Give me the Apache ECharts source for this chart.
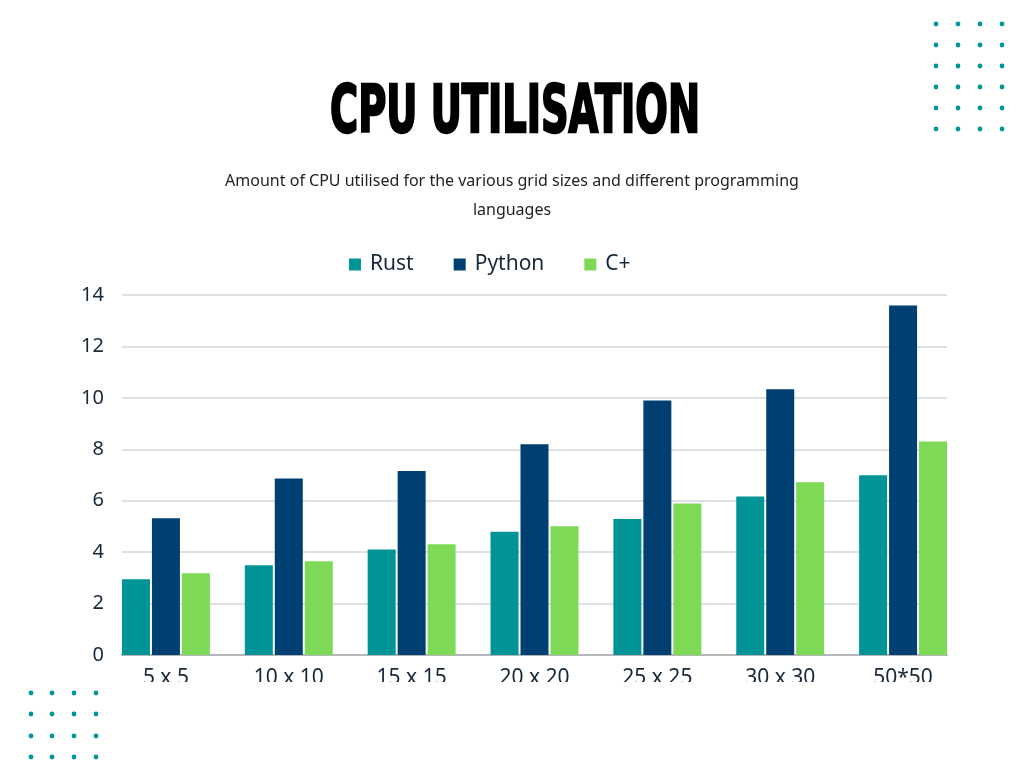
<!DOCTYPE html>
<html>
<head>
<meta charset="utf-8">
<script src="https://cdn.jsdelivr.net/npm/echarts@6/dist/echarts.min.js"></script>
<style>
html,body{margin:0;padding:0;background:#fff;}
#chart{width:1024px;height:768px;}
</style>
</head>
<body>
<div id="chart"></div>
<script>
var categories = ['5 x 5', '10 x 10', '15 x 15', '20 x 20', '25 x 25', '30 x 30', '50*50'];
var rustValues = [2.95, 3.49, 4.10, 4.79, 5.29, 6.16, 6.99];
var pythonValues = [5.32, 6.86, 7.16, 8.20, 9.90, 10.33, 13.59];
var cplusValues = [3.18, 3.65, 4.31, 5.01, 5.89, 6.72, 8.30];
var seriesNames = ['Rust', 'Python', 'C+'];
var yTicks = [0, 2, 4, 6, 8, 10, 12, 14];

var colors = ['#009496', '#003f72', '#7ed957'];
var bodyFont = '"Noto Sans", "Open Sans", sans-serif';
var titleFontFamily = '"Liberation Sans Narrow", "DejaVu Sans Condensed", sans-serif';
var titleFont = 'bold 66px ' + titleFontFamily;
var titleText = 'CPU UTILISATION';

// fit title width
var cv = document.createElement('canvas').getContext('2d');
cv.font = titleFont;
var tw = cv.measureText(titleText).width;
var titleScale = 370 / tw;

// decorative dots
var dots = [];
var dotColor = '#00969a';
[936, 958, 980, 1002].forEach(function (x) {
  [24, 45, 66, 87, 108, 129].forEach(function (y) {
    dots.push({type: 'circle', shape: {cx: x, cy: y, r: 2.4}, style: {fill: dotColor}, z: 200});
  });
});
[31, 52, 74, 96].forEach(function (x) {
  [693, 714, 736, 757].forEach(function (y) {
    dots.push({type: 'circle', shape: {cx: x, cy: y, r: 2.4}, style: {fill: dotColor}, z: 200});
  });
});

var chart = echarts.init(document.getElementById('chart'), null, {renderer: 'canvas'});
var option = {
  backgroundColor: '#ffffff',
  animation: false,
  color: colors,
  title: {
    text: 'Amount of CPU utilised for the various grid sizes and different programming\nlanguages',
    left: 'center',
    top: 167,
    padding: 0,
    textStyle: {fontFamily: bodyFont, fontSize: 16, fontWeight: 'normal', color: '#1f1f1f', lineHeight: 29}
  },
  legend: {
    data: seriesNames,
    left: 349,
    top: 254,
    padding: 0,
    icon: 'rect',
    itemWidth: 12,
    itemHeight: 12,
    itemGap: 40,
    textStyle: {fontFamily: bodyFont, fontSize: 21, color: '#17283a', padding: [0, 0, 0, 4]}
  },
  grid: [
    {left: 122, right: 77, top: 295, bottom: 113},
    {left: 104.5, right: 59.5, top: 295, bottom: 113}
  ],
  xAxis: [
    {
      type: 'category', gridIndex: 0, data: categories,
      axisLabel: {show: false}, axisTick: {show: false},
      axisLine: {lineStyle: {color: '#b4b8bc', width: 2}}, z: 1
    },
    {
      type: 'category', gridIndex: 1, data: categories,
      axisLine: {show: false}, axisTick: {show: false},
      axisLabel: {fontFamily: bodyFont, fontSize: 21, color: '#17283a', margin: 13}
    }
  ],
  yAxis: [
    {
      type: 'value', gridIndex: 0, min: yTicks[0], max: yTicks[yTicks.length - 1], interval: 2,
      axisLine: {show: false}, axisTick: {show: false},
      axisLabel: {fontFamily: bodyFont, fontSize: 20, color: '#17283a', margin: 18},
      splitLine: {lineStyle: {color: '#d3d7db', width: 1.5}}
    },
    {
      type: 'value', gridIndex: 1, min: yTicks[0], max: yTicks[yTicks.length - 1], interval: 2,
      show: false, splitLine: {show: false}
    }
  ],
  series: [
    {name: seriesNames[0], type: 'bar', xAxisIndex: 1, yAxisIndex: 1, data: rustValues, barWidth: 28, barGap: '7%', itemStyle: {color: colors[0]}, z: 5},
    {name: seriesNames[1], type: 'bar', xAxisIndex: 1, yAxisIndex: 1, data: pythonValues, barWidth: 28, barGap: '7%', itemStyle: {color: colors[1]}, z: 5},
    {name: seriesNames[2], type: 'bar', xAxisIndex: 1, yAxisIndex: 1, data: cplusValues, barWidth: 28, barGap: '7%', itemStyle: {color: colors[2]}, z: 5}
  ],
  graphic: [
    {
      type: 'text', x: 515, y: 115, scaleX: titleScale, scaleY: 1, z: 100,
      style: {text: titleText, font: titleFont, fill: '#000000', stroke: '#000000', lineWidth: 2.5, align: 'center', verticalAlign: 'middle'}
    },
    {
      type: 'rect', shape: {x: 0, y: 682, width: 1024, height: 86}, style: {fill: '#ffffff'}, z: 150
    }
  ].concat(dots)
};
chart.setOption(option);
</script>
</body>
</html>
